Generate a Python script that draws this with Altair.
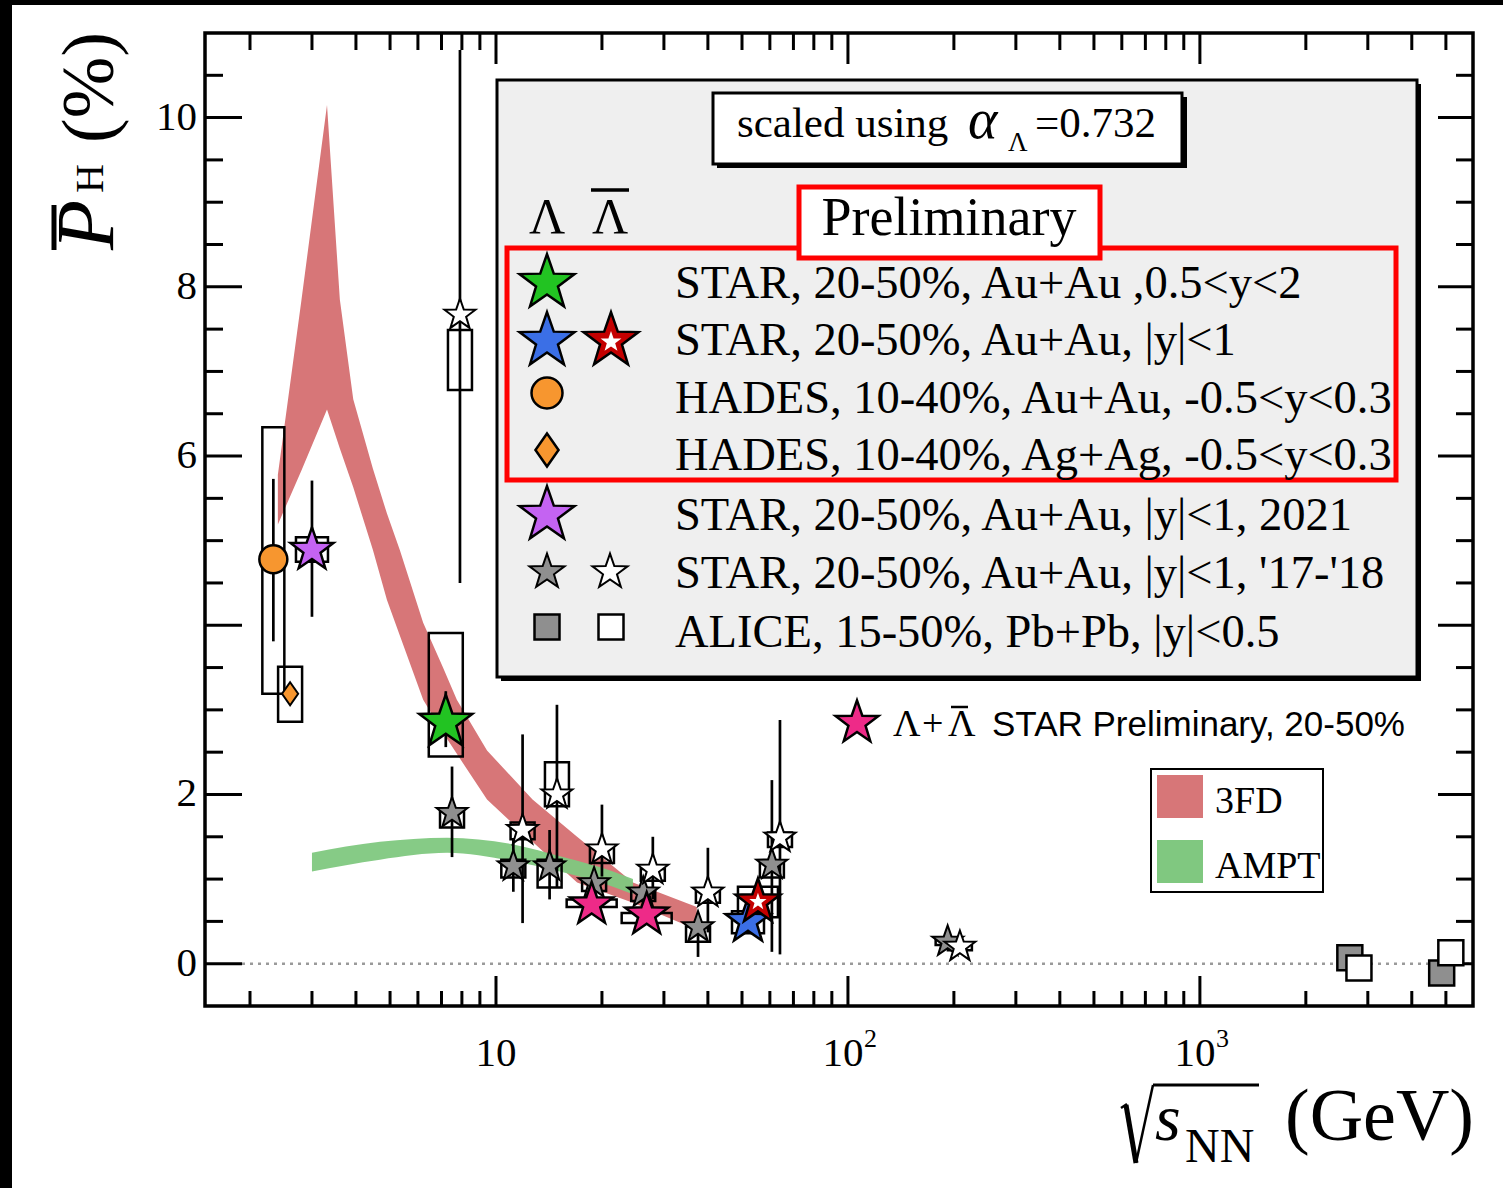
import altair as alt
import pandas as pd

SERIF = "Liberation Serif"
SANS = "Liberation Sans"

# ---------------- data ----------------
# 3FD model band
fd_x  = [2.40, 2.80, 3.31, 3.60, 3.93, 4.47, 4.90, 5.33, 6.21, 7.07, 7.74, 9.43, 12.7, 17.0, 24.5, 37.2]
fd_hi = [5.78, 7.84, 10.15, 7.85, 6.67, 5.85, 5.32, 4.89, 4.03, 3.50, 3.12, 2.52, 1.94, 1.50, 0.96, 0.67]
fd_lo = [5.19, 5.83, 6.55, 6.09, 5.63, 4.89, 4.30, 3.88, 3.12, 2.73, 2.48, 1.94, 1.44, 0.96, 0.72, 0.40]
# AMPT model band
ampt_x  = [3.0, 4.68, 7.26, 11.2, 15.5, 21.5, 24.5]
ampt_hi = [1.31, 1.44, 1.49, 1.41, 1.26, 1.09, 1.00]
ampt_lo = [1.09, 1.23, 1.31, 1.21, 1.08, 0.91, 0.82]

# STAR '17-'18 Lambda (grey stars)
lam_x   = [7.5, 11.2, 14.2, 19.0, 26.2, 37.5, 60.8, 192.0]
lam_y   = [1.78, 1.15, 1.15, 0.95, 0.84, 0.43, 1.17, 0.26]
lam_slo = [1.26, 0.85, 0.76, 0.82, 0.70, 0.08, 0.14, 0.21]
lam_shi = [2.33, 1.47, 1.58, 1.08, 1.00, 0.60, 2.17, 0.31]
lam_blo = [1.61, 1.02, 0.90, 0.86, 0.74, 0.26, 1.02, 0.22]
lam_bhi = [1.82, 1.23, 1.23, 1.00, 0.88, 0.44, 1.20, 0.28]
# STAR '17-'18 anti-Lambda (white stars)
alam_x   = [7.9, 11.9, 14.9, 20.0, 27.9, 40.0, 64.1, 208.0]
alam_y   = [7.67, 1.58, 2.00, 1.35, 1.11, 0.84, 1.49, 0.20]
alam_slo = [4.50, 0.48, 0.90, 1.03, 0.76, 0.37, 0.11, 0.14]
alam_shi = [10.8, 2.71, 3.06, 1.88, 1.50, 1.37, 2.88, 0.27]
alam_blo = [6.78, 1.47, 1.86, 1.19, 0.98, 0.72, 1.38, 0.16]
alam_bhi = [7.49, 1.67, 2.38, 1.37, 1.12, 0.86, 1.55, 0.23]
# HADES Au+Au
hau_x, hau_y, hau_slo, hau_shi, hau_blo, hau_bhi = [2.33], [4.78], [3.81], [5.73], [3.19], [6.34]
# HADES Ag+Ag
hag_x, hag_y, hag_slo, hag_shi, hag_blo, hag_bhi = [2.60], [3.19], [3.10], [3.28], [2.86], [3.51]
# STAR 2021 (3 GeV)
s21_x, s21_y, s21_slo, s21_shi, s21_blo, s21_bhi = [3.0], [4.89], [4.10], [5.71], [4.75], [5.04]
# STAR FXT 0.5<y<2
fxt_x, fxt_y, fxt_slo, fxt_shi, fxt_blo, fxt_bhi = [7.2], [2.85], [2.56], [3.22], [2.45], [3.91]
# STAR |y|<1 Lambda / anti-Lambda (54.4 GeV)
bl_x, bl_y, bl_slo, bl_shi, bl_blo, bl_bhi = [52.0], [0.50], [0.38], [0.62], [0.36], [0.62]
rd_x, rd_y, rd_slo, rd_shi, rd_blo, rd_bhi = [55.5], [0.73], [0.60], [0.86], [0.55], [0.91]
# Lambda+antiLambda STAR preliminary
pk_x   = [18.7, 26.8]
pk_y   = [0.70, 0.58]
pk_blo = [0.67, 0.48]
pk_bhi = [0.76, 0.60]
# ALICE
al_x  = [2667.0, 4864.0]
al_y  = [0.07, -0.11]
aal_x = [2831.0, 5164.0]
aal_y = [-0.05, 0.13]

legend_rows = [
    "STAR, 20-50%, Au+Au ,0.5<y<2",
    "STAR, 20-50%, Au+Au, |y|<1",
    "HADES, 10-40%, Au+Au, -0.5<y<0.3",
    "HADES, 10-40%, Ag+Ag, -0.5<y<0.3",
    "STAR, 20-50%, Au+Au, |y|<1, 2021",
    "STAR, 20-50%, Au+Au, |y|<1, '17-'18",
    "ALICE, 15-50%, Pb+Pb, |y|<0.5",
]

# axis tick positions and labels
x_minor = [2, 3, 4, 5, 6, 7, 8, 9, 20, 30, 40, 50, 60, 70, 80, 90,
           200, 300, 400, 500, 600, 700, 800, 900, 2000, 3000, 4000, 5000]
x_major = [10, 100, 1000]
x_lab_plain = [10]
x_lab_pow = [100, 1000]
x_lab_exp = ["2", "3"]
y_major = [0, 2, 4, 6, 8, 10]
y_minor = [0.5, 1, 1.5, 2.5, 3, 3.5, 4.5, 5, 5.5, 6.5, 7, 7.5, 8.5, 9, 9.5, 10.5]
y_lab = [0, 2, 6, 8, 10]

# ---------------- styles / layout ----------------
W, H = 1268, 973
L0, T0 = 205, 33
DEC = (3.776 - 0.1732) / W  # decades per pixel
XS = alt.Scale(type="log", domain=[1.49, 5970])
YS = alt.Scale(domain=[-0.5, 11])

STARP = ("M0,-1L0.235,-0.324L0.951,-0.309L0.38,0.124L0.588,0.809L0,0.4"
         "L-0.588,0.809L-0.38,0.124L-0.951,-0.309L-0.235,-0.324Z")
DIAM = "M0,-1L0.7,0L0,1L-0.7,0Z"
ORANGE, GREEN, BLUE, RED = "#f7962f", "#22c322", "#3b6fe6", "#c40000"
PURPLE, GREY, PINK = "#c463f2", "#8f8f8f", "#ee2a88"
C3FD, CAMPT = "#d77678", "#80c880"


def P(x):
    return x - L0


def Q(y):
    return y - T0


ONE = alt.Data(values=[{"a": 1}])


def rect(x0, y0, x1, y1, fill=None, stroke=None, sw=0.0):
    return alt.Chart(ONE).mark_rect(
        fill=fill if fill else "white", fillOpacity=1 if fill else 0,
        stroke=stroke if stroke else "black", strokeOpacity=1 if stroke else 0,
        strokeWidth=sw,
    ).encode(x=alt.value(P(x0)), x2=alt.value(P(x1)), y=alt.value(Q(y0)), y2=alt.value(Q(y1)))


def seg(x0, y0, x1, y1, sw, color="black"):
    return alt.Chart(ONE).mark_rule(color=color, strokeWidth=sw).encode(
        x=alt.value(P(x0)), x2=alt.value(P(x1)), y=alt.value(Q(y0)), y2=alt.value(Q(y1)))


def text(s, x, y, size, font=SERIF, style="normal", align="left", angle=0, color="black"):
    return alt.Chart(ONE).mark_text(
        text=s, font=font, fontSize=size, fontStyle=style, align=align,
        baseline="alphabetic", angle=angle, color=color,
    ).encode(x=alt.value(P(x)), y=alt.value(Q(y)))


# ---------------- tables ----------------
def series(xs, ys, slo, shi, blo, bhi, hw):
    rows = []
    f = 10 ** (hw * DEC)
    for i in range(len(xs)):
        rows.append(dict(x=xs[i], y=ys[i],
                         slo=slo[i] if slo else None, shi=shi[i] if shi else None,
                         bx0=xs[i] / f, bx1=xs[i] * f, blo=blo[i], bhi=bhi[i]))
    return rows


err_rows = []
box_rows = []
for args in [
    (lam_x, lam_y, lam_slo, lam_shi, lam_blo, lam_bhi, 12),
    (alam_x, alam_y, alam_slo, alam_shi, alam_blo, alam_bhi, 12),
    (hau_x, hau_y, hau_slo, hau_shi, hau_blo, hau_bhi, 11),
    (hag_x, hag_y, hag_slo, hag_shi, hag_blo, hag_bhi, 12),
    (s21_x, s21_y, s21_slo, s21_shi, s21_blo, s21_bhi, 16),
    (fxt_x, fxt_y, fxt_slo, fxt_shi, fxt_blo, fxt_bhi, 17),
    (bl_x, bl_y, bl_slo, bl_shi, bl_blo, bl_bhi, 16),
    (rd_x, rd_y, rd_slo, rd_shi, rd_blo, rd_bhi, 20),
    (pk_x, pk_y, None, None, pk_blo, pk_bhi, 25),
]:
    rs = series(*args)
    box_rows += rs
    err_rows += [r for r in rs if r["slo"] is not None]
err_df = pd.DataFrame(err_rows)
box_df = pd.DataFrame(box_rows)


def pts(xs, ys, shape, fill, size, sw):
    return [dict(x=a, y=b, shape=shape, fill=fill, size=size, sw=sw) for a, b in zip(xs, ys)]


pt_rows = []
pt_rows += pts(al_x, al_y, "square", GREY, 625, 2.5)
pt_rows += pts(aal_x, aal_y, "square", "white", 625, 2.5)
pt_rows += pts(lam_x, lam_y, STARP, GREY, 1060, 2)
pt_rows += pts(alam_x, alam_y, STARP, "white", 1060, 2)
pt_rows += pts(hau_x, hau_y, "circle", ORANGE, 784, 2.5)
pt_rows += pts(hag_x, hag_y, DIAM, ORANGE, 529, 2)
pt_rows += pts(s21_x, s21_y, STARP, PURPLE, 2045, 2.5)
pt_rows += pts(fxt_x, fxt_y, STARP, GREEN, 3110, 2.5)
pt_rows += pts(pk_x, pk_y, STARP, PINK, 2045, 2.5)
pt_rows += pts(bl_x, bl_y, STARP, BLUE, 2240, 2.5)
pt_rows += pts(rd_x, rd_y, STARP, RED, 2240, 2.5)
pt_rows += pts(rd_x, rd_y, STARP, "white", 330, 0)
pt_df = pd.DataFrame(pt_rows)

# legend glyphs (page pixel positions)
leg_rows = [
    dict(px=547, py=283, shape=STARP, fill=GREEN, size=3340, sw=2.5),
    dict(px=547, py=341, shape=STARP, fill=BLUE, size=3340, sw=2.5),
    dict(px=611, py=341, shape=STARP, fill=RED, size=3340, sw=2.5),
    dict(px=611, py=342, shape=STARP, fill="white", size=480, sw=0),
    dict(px=547, py=393, shape="circle", fill=ORANGE, size=961, sw=2.5),
    dict(px=547, py=450, shape=DIAM, fill=ORANGE, size=1089, sw=2.5),
    dict(px=547, py=515, shape=STARP, fill=PURPLE, size=3340, sw=2.5),
    dict(px=547, py=572, shape=STARP, fill=GREY, size=1354, sw=2),
    dict(px=610, py=572, shape=STARP, fill="white", size=1354, sw=2),
    dict(px=547, py=627, shape="square", fill=GREY, size=625, sw=2.5),
    dict(px=611, py=627, shape="square", fill="white", size=625, sw=2.5),
    dict(px=857, py=723, shape=STARP, fill=PINK, size=2045, sw=2.5),
]
leg_df = pd.DataFrame(leg_rows)
leg_df["px"] = leg_df["px"] - L0
leg_df["py"] = leg_df["py"] - T0

fd_df = pd.DataFrame({"x": fd_x, "lo": fd_lo, "hi": fd_hi})
ampt_df = pd.DataFrame({"x": ampt_x, "lo": ampt_lo, "hi": ampt_hi})

# ---------------- layers ----------------
layers = []
# black borders of the picture
layers.append(rect(0, 0, 12, 1188, fill="black"))
layers.append(rect(0, 0, 1503, 5, fill="black"))

layers.append(alt.Chart(fd_df).mark_area(color=C3FD, opacity=1).encode(
    x=alt.X("x:Q", scale=XS, axis=None), y=alt.Y("lo:Q", scale=YS, axis=None), y2="hi:Q"))
layers.append(alt.Chart(ampt_df).mark_area(color=CAMPT, opacity=0.95, interpolate="monotone").encode(
    x=alt.X("x:Q", scale=XS, axis=None), y=alt.Y("lo:Q", scale=YS, axis=None), y2="hi:Q"))

# dotted zero line
layers.append(alt.Chart(pd.DataFrame({"y": [0]})).mark_rule(
    color="#9a9a9a", strokeWidth=2.5, strokeDash=[3, 5]).encode(
    y=alt.Y("y:Q", scale=YS, axis=None), x=alt.value(37), x2=alt.value(W)))

# tick marks (inward, all four sides)
xmaj = pd.DataFrame({"v": x_major})
xmin = pd.DataFrame({"v": x_minor})
ymaj = pd.DataFrame({"v": y_major})
ymin = pd.DataFrame({"v": y_minor})
TW = 3
layers.append(alt.Chart(xmaj).mark_rule(color="black", strokeWidth=TW).encode(
    x=alt.X("v:Q", scale=XS, axis=None), y=alt.value(H), y2=alt.value(H - 30)))
layers.append(alt.Chart(xmin).mark_rule(color="black", strokeWidth=TW).encode(
    x=alt.X("v:Q", scale=XS, axis=None), y=alt.value(H), y2=alt.value(H - 15)))
layers.append(alt.Chart(xmaj).mark_rule(color="black", strokeWidth=TW).encode(
    x=alt.X("v:Q", scale=XS, axis=None), y=alt.value(0), y2=alt.value(31)))
layers.append(alt.Chart(xmin).mark_rule(color="black", strokeWidth=TW).encode(
    x=alt.X("v:Q", scale=XS, axis=None), y=alt.value(0), y2=alt.value(17)))
layers.append(alt.Chart(ymaj).mark_rule(color="black", strokeWidth=TW).encode(
    y=alt.Y("v:Q", scale=YS, axis=None), x=alt.value(0), x2=alt.value(37)))
layers.append(alt.Chart(ymin).mark_rule(color="black", strokeWidth=TW).encode(
    y=alt.Y("v:Q", scale=YS, axis=None), x=alt.value(0), x2=alt.value(18)))
layers.append(alt.Chart(ymaj).mark_rule(color="black", strokeWidth=TW).encode(
    y=alt.Y("v:Q", scale=YS, axis=None), x=alt.value(W), x2=alt.value(W - 35)))
layers.append(alt.Chart(ymin).mark_rule(color="black", strokeWidth=TW).encode(
    y=alt.Y("v:Q", scale=YS, axis=None), x=alt.value(W), x2=alt.value(W - 17)))

# tick labels placed through the scales
layers.append(alt.Chart(pd.DataFrame({"v": x_lab_plain})).mark_text(
    font=SERIF, fontSize=41, baseline="alphabetic", align="center", color="black").encode(
    x=alt.X("v:Q", scale=XS, axis=None), y=alt.value(1066 - T0), text=alt.value("10")))
layers.append(alt.Chart(pd.DataFrame({"v": x_lab_pow})).mark_text(
    font=SERIF, fontSize=41, baseline="alphabetic", align="center", dx=-5, color="black").encode(
    x=alt.X("v:Q", scale=XS, axis=None), y=alt.value(1066 - T0), text=alt.value("10")))
layers.append(alt.Chart(pd.DataFrame({"v": x_lab_pow, "e": x_lab_exp})).mark_text(
    font=SERIF, fontSize=26, baseline="alphabetic", align="left", dx=16, color="black").encode(
    x=alt.X("v:Q", scale=XS, axis=None), y=alt.value(1047 - T0), text="e:N"))
layers.append(alt.Chart(pd.DataFrame({"v": y_lab})).mark_text(
    font=SERIF, fontSize=41, baseline="middle", align="right", color="black").encode(
    y=alt.Y("v:Q", scale=YS, axis=None), x=alt.value(-8), text="v:Q"))

# statistical error bars
layers.append(alt.Chart(err_df).mark_rule(color="black", strokeWidth=2.7, clip=True).encode(
    x=alt.X("x:Q", scale=XS, axis=None), y=alt.Y("slo:Q", scale=YS, axis=None), y2="shi:Q"))
# systematic boxes
layers.append(alt.Chart(box_df).mark_rect(filled=False, color="black", strokeWidth=2.5).encode(
    x=alt.X("bx0:Q", scale=XS, axis=None), x2="bx1:Q",
    y=alt.Y("blo:Q", scale=YS, axis=None), y2="bhi:Q"))
# markers
layers.append(alt.Chart(pt_df).mark_point(filled=True, opacity=1, strokeOpacity=1, stroke="black").encode(
    x=alt.X("x:Q", scale=XS, axis=None), y=alt.Y("y:Q", scale=YS, axis=None),
    shape=alt.Shape("shape:N", scale=None), fill=alt.Fill("fill:N", scale=None),
    size=alt.Size("size:Q", scale=None), strokeWidth=alt.StrokeWidth("sw:Q", scale=None)))

# ---- big legend box ----
layers.append(rect(501, 84, 1421, 681, fill="black"))
layers.append(rect(497, 80, 1417, 677, fill="#efefef", stroke="black", sw=3))
layers.append(rect(717, 97, 1187, 168, fill="black"))
layers.append(rect(713, 93, 1182, 164, fill="white", stroke="black", sw=3))
layers.append(text("scaled using", 737, 137, 43))
layers.append(text("α", 968, 138, 56, style="italic"))
layers.append(text("Λ", 1008, 151, 27))
layers.append(text("=0.732", 1035, 137, 43))
layers.append(rect(507, 248, 1396, 480, stroke="#ff0000", sw=5))
layers.append(rect(799, 187, 1100, 258, fill="white", stroke="#ff0000", sw=5))
layers.append(text("Preliminary", 949, 235, 54, align="center"))
layers.append(text("Λ", 547, 233, 50, align="center"))
layers.append(text("Λ", 610, 233, 50, align="center"))
layers.append(seg(591, 190, 629, 190, 3.5))
row_base = [298, 355, 413, 470, 530, 588, 647]
for s, b in zip(legend_rows, row_base):
    layers.append(text(s, 675, b, 46.5))

# pink annotation
layers.append(text("Λ", 893, 736, 38))
layers.append(text("+", 922, 736, 38))
layers.append(text("Λ", 948, 736, 38))
layers.append(seg(951, 707, 968, 707, 2.5))
layers.append(text("STAR Preliminary, 20-50%", 992, 736, 35, font=SANS))

# model legend
layers.append(rect(1151, 769, 1323, 892, fill="white", stroke="black", sw=2))
layers.append(rect(1157, 775, 1203, 818, fill=C3FD))
layers.append(rect(1157, 840, 1203, 883, fill=CAMPT))
layers.append(text("3FD", 1215, 813, 38))
layers.append(text("AMPT", 1215, 878, 38))

layers.append(alt.Chart(leg_df).mark_point(filled=True, opacity=1, strokeOpacity=1, stroke="black").encode(
    x=alt.X("px:Q", scale=None, axis=None), y=alt.Y("py:Q", scale=None, axis=None),
    shape=alt.Shape("shape:N", scale=None), fill=alt.Fill("fill:N", scale=None),
    size=alt.Size("size:Q", scale=None), strokeWidth=alt.StrokeWidth("sw:Q", scale=None)))

# frame
layers.append(rect(205, 33, 1473, 1006, stroke="black", sw=3.5))

# x title: sqrt(s_NN) (GeV)
layers.append(seg(1121, 1108, 1127, 1104, 2.5))
layers.append(seg(1126, 1105, 1136, 1163, 5))
layers.append(seg(1136, 1163, 1153, 1085, 2.5))
layers.append(seg(1153, 1085, 1259, 1085, 3))
layers.append(text("s", 1155, 1140, 66, style="italic"))
layers.append(text("NN", 1185, 1162, 48))
layers.append(text("(GeV)", 1474, 1140, 74, align="right"))

# y title: P_H (%)
layers.append(text("P", 113, 250, 82, style="italic", angle=270))
layers.append(seg(54, 205, 54, 250, 5))
layers.append(text("H", 103, 193, 40, angle=270))
layers.append(text("(%)", 113, 143, 74, angle=270))

chart = alt.layer(*layers).properties(
    width=W, height=H,
    padding={"left": L0, "top": T0, "right": 1503 - L0 - W, "bottom": 1188 - T0 - H},
    autosize=alt.AutoSizeParams(type="none"),
    background="white",
).configure_view(strokeWidth=0)

chart.save("out.html", embed_options={"renderer": "svg", "actions": False})
